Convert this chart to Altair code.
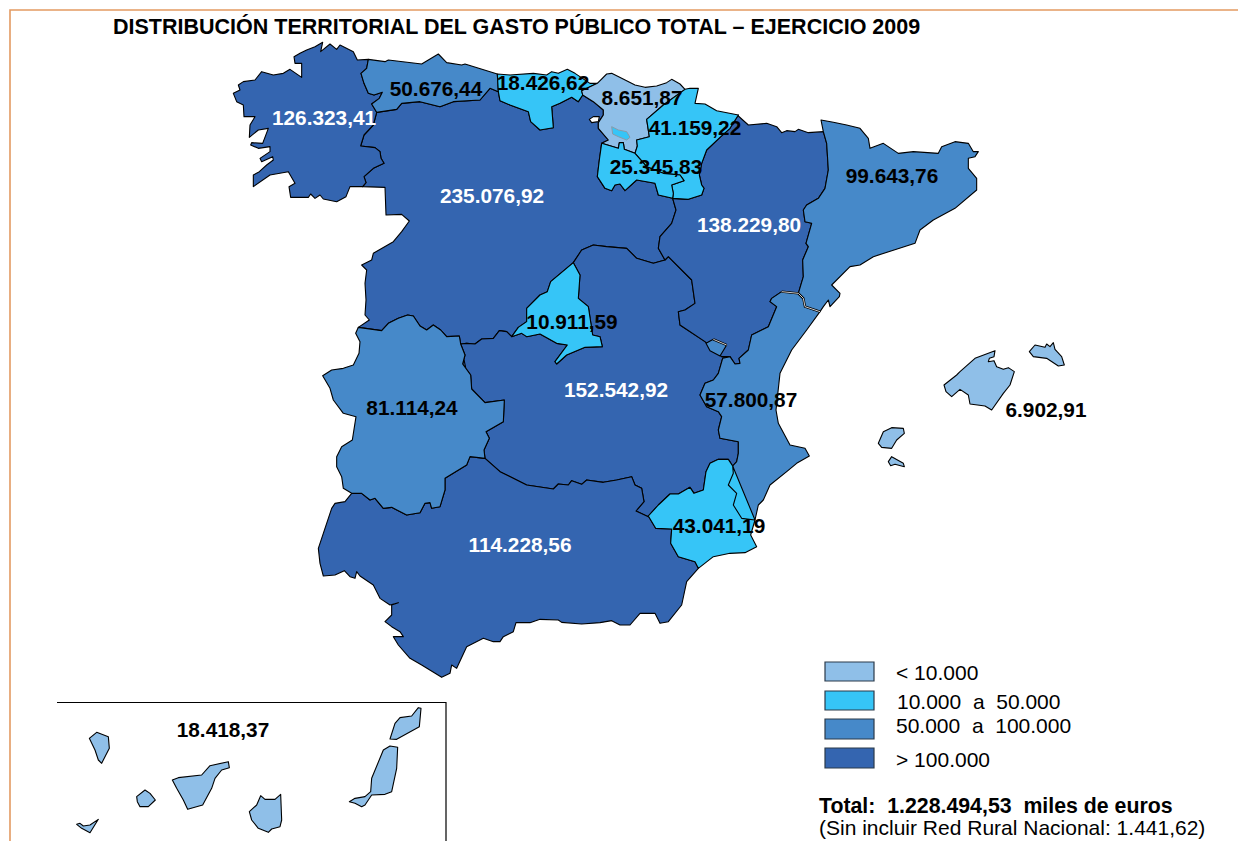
import altair as alt

# Boundary traces: each group is (crop origin x, crop origin y, points at 3x)
def z(ox, oy, pts):
    return [[ox + a / 3, oy + b / 3] for a, b in pts]

def rev(seg):
    return seg[::-1]

def ring(*segs):
    out = []
    for s in segs:
        out += s
    return out + [out[0]]

Z1 = (220, 50); Z2 = (490, 60); Z3 = (640, 110); Z4 = (310, 240)
Z5 = (620, 330); Z6 = (310, 450); Z7 = (50, 695); Z9 = (870, 330); Z11 = (280, 30)

gal_coast = z(*Z1, [(428,410),(390,410),(378,440),(350,455),(310,447),(300,435),(285,445),(272,432),(265,442),(212,442),(207,410),(225,400),(205,365),(150,375),(100,410),(100,375),(118,365),(140,345),(160,330),(158,320),(125,335),(120,325),(150,305),(150,290),(115,295),(92,285),(95,278),(128,280),(145,235),(115,240),(88,262),(90,225),(105,200),(72,200),(70,165),(50,155),(40,130),(60,120),(55,105),(70,95),(105,90),(125,65),(160,75),(190,70),(210,58),(245,82)]) + z(*Z11, [(65,100),(45,100),(42,80),(60,70),(80,60),(105,50),(128,37),(122,65),(150,42),(170,58),(180,45),(220,65),(232,90)]) + z(*Z1, [(445,28)])
gal_ast = z(*Z1, [(445,28),(440,55),(423,70),(432,100),(445,130),(462,135),(487,127),(478,145),(455,162),(470,187)])
gal_cyl = z(*Z1, [(470,187),(460,225),(432,255),(422,288),(465,293),(480,305),(483,325),(492,340),(460,355),(432,380),(438,398),(428,410)])
ast_coast = z(*Z1, [(445,28),(495,35),(505,30),(605,42),(655,12),(680,38),(725,45),(735,42),(832,72)])
ast_cant = z(*Z1, [(832,72),(835,125)])
ast_cyl = z(*Z1, [(470,187),(530,178),(545,160),(600,155),(660,170),(700,155),(780,150),(810,115),(835,125)])
cant_coast = z(*Z1, [(832,72)]) + z(*Z2, [(60,45),(130,40),(170,45),(185,35),(205,40),(232,28),(255,40),(300,70),(322,70)])
cant_pv = z(*Z2, [(322,70),(275,92),(278,105)])
cant_cyl = z(*Z1, [(835,125)]) + z(*Z2, [(30,122),(60,135),(115,155),(122,185),(150,210),(190,203),(185,140),(210,130),(245,112),(265,125),(278,105)])
pv_coast = z(*Z2, [(322,70),(350,42),(365,40),(395,55),(435,75),(465,82),(500,78),(530,68),(545,58),(570,72),(585,88)])
pv_nav = z(*Z2, [(585,88),(520,135),(470,178),(478,230),(440,240),(442,258),(435,280)])
pv_rio = z(*Z2, [(435,280),(403,268),(400,248),(388,248),(385,265),(335,250)])
pv_cyl = z(*Z2, [(335,250),(355,240),(325,205),(325,188),(340,165),(340,150),(310,125),(278,105)])
nav_coast = z(*Z2, [(585,88),(600,85),(625,85),(615,130),(645,132),(680,152),(745,165)])
nav_ara = z(*Z2, [(745,165),(720,205),(690,232),(650,270),(635,310),(628,345),(635,375),(642,385),(635,405),(595,418),(548,415)])
nav_rio = z(*Z2, [(548,415),(550,400),(545,375),(582,362),(570,345),(520,340),(470,320),(435,280)])
rio_cyl = z(*Z2, [(335,250),(328,300),(322,350),(345,385),(365,392),(375,375),(390,372),(405,392),(440,360),(495,370),(505,405),(548,415)])
ara_cyl = z(*Z2, [(548,415),(558,450),(545,490),(510,530),(505,565),(525,600)])
cyl_clm_e = z(*Z2, [(525,600),(490,610),(440,595),(410,565),(350,560),(310,555),(275,570)]) + z(*Z4, [(790,68)])
cyl_mad = z(*Z4, [(790,68),(722,125),(712,155),(690,165),(650,205),(650,245),(625,262),(605,290)])
mad_clm = z(*Z4, [(605,290),(635,280),(650,290),(690,282),(740,310),(772,315),(735,365),(740,372),(770,345),(825,322),(877,320),(870,290),(848,285),(835,200),(805,175),(810,105),(790,68)])
cyl_clm_w = z(*Z4, [(605,290),(590,275),(568,272),(550,295),(515,297),(495,312),(470,310),(452,312)])
ext_cyl = z(*Z4, [(452,312),(448,288),(410,290),(392,270),(370,255),(350,270),(330,258),(310,228),(293,225),(265,235),(235,250),(215,272),(145,262)])
ext_west = z(*Z4, [(145,262),(137,280),(150,305),(147,340),(130,375),(100,385),(65,390),(38,407),(60,445),(70,480),(100,520),(138,530),(127,600),(95,620),(80,650),(80,680),(95,710),(100,745),(125,760)])
ext_and = z(*Z6, [(125,130),(155,130),(180,150),(195,145),(220,175),(245,172),(290,195),(330,188),(345,160),(360,158),(365,175),(390,170),(405,120),(405,85),(470,45),(480,20),(525,25)])
ext_clm = z(*Z6, [(525,25)]) + z(*Z4, [(522,630),(538,595),(528,575),(580,545),(583,480),(525,488),(485,447),(482,405),(458,372),(465,345),(452,312)])
cyl_port = z(*Z1, [(428,410),(495,412),(498,495),(545,493),(568,513),(545,545),(520,575)]) + z(*Z4, [(190,40),(185,60),(155,75),(170,90),(165,130),(168,180),(165,225),(178,240),(145,262)])
and_clm = z(*Z6, [(525,25),(570,65),(650,105),(730,117),(745,102),(775,105),(785,92),(815,103),(830,90),(880,97),(920,90),(965,80),(975,105),(995,115),(1002,155),(978,183),(1015,200)])
mur_and = z(*Z5, [(85,558),(107,595),(155,597),(152,640),(175,680),(225,695),(235,715)])
and_coast = z(*Z6, [(1165,355),(1130,395),(1115,465),(1075,515),(1050,520),(1035,490),(990,490),(960,525),(930,525),(905,512),(870,518),(815,522),(755,517),(745,510),(690,508),(660,518),(618,518),(610,545),(580,560),(570,575),(550,575),(520,565),(470,590),(440,655),(425,645),(420,670),(395,682),(335,645),(300,625),(265,585),(250,560),(280,560),(270,545),(245,530),(225,515),(245,495),(245,465),(265,458),(240,465),(210,445),(190,405),(150,378),(140,365),(135,385),(120,380),(103,362),(75,375),(40,378),(30,340),(25,295),(40,250),(65,175),(75,160),(105,155),(125,130)])
ara_top = z(*Z3, [(295,18),(325,45),(380,40),(410,50),(425,68),(440,62),(465,65),(475,58),(505,68),(550,65)])
ara_cat = z(*Z3, [(550,65),(560,100),(565,180),(555,235),(535,265),(500,285),(490,300),(495,335),(515,340),(498,400),(505,410),(488,450),(490,500),(475,550)])
ara_val = z(*Z3, [(475,550),(425,545),(395,565),(390,575),(410,590),(385,650),(335,675),(325,720),(297,745),(300,760),(285,762),(270,740)])
ara_clm = z(*Z3, [(75,450),(85,440),(155,510),(165,580),(135,600),(115,605),(120,645),(195,695),(245,740),(270,740)])
cat_coast = z(*Z3, [(550,65),(543,30),(580,37),(620,45),(660,55),(685,85),(690,115),(730,100),(775,130),(820,125),(895,130),(905,110),(945,95),(985,100),(1000,125),(1015,125),(1005,140),(985,145),(985,175),(1010,205),(1010,240),(945,295),(880,330),(840,360),(825,400),(700,440),(660,465),(630,470),(575,525),(600,550),(598,560),(570,590),(565,570),(550,590),(540,605)])
cat_val = z(*Z3, [(540,605),(495,590),(490,565),(475,550)])
val_coast = z(*Z3, [(540,605),(500,660),(455,720)]) + z(*Z5, [(515,60),(480,130),(468,240),(475,280),(510,345),(555,355),(568,378),(530,400),(500,425),(450,465),(430,510),(415,525),(405,570)])
val_mur = z(*Z5, [(405,570),(365,565),(340,525),(350,490),(325,465),(340,430),(338,408)])
val_clm = z(*Z3, [(270,740)]) + z(*Z5, [(308,85),(295,130),(280,150),(255,160),(240,195),(260,230),(295,245),(305,260),(295,300),(300,325),(355,335),(355,370),(350,395),(338,408)])
mur_clm = z(*Z5, [(338,408),(325,388),(295,388),(270,400),(258,425),(250,480),(222,490),(210,472),(175,492),(150,492),(115,525),(85,558)])
mur_coast = z(*Z5, [(235,715),(280,680),(330,670),(375,668),(410,650),(392,615),(405,570)])
ademuz = z(*Z5, [(258,40),(280,28),(320,45),(300,78),(270,62)])
trevino = z(*Z2, [(365,200),(385,210),(410,215),(420,232),(410,240),(385,230),(368,222)])
notch = z(*Z2, [(298,178),(310,170),(328,170),(325,185),(305,188)])
double_a = z(*Z3, [(425,545),(475,550),(490,565),(495,590),(540,605)])
double_b = z(*Z5, [(280,28),(320,45)])

mallorca = z(*Z9, [(222,165),(260,135),(270,125),(315,85),(375,62),(372,80),(358,85),(355,95),(372,92),(380,110),(400,118),(415,113),(433,125),(420,165),(400,190),(365,240),(345,228),(300,222),(295,195),(270,178),(245,200),(228,185)])
menorca = z(*Z9, [(478,65),(495,45),(525,52),(530,42),(540,50),(550,38),(555,58),(575,80),(583,105),(565,108),(530,85),(490,80)])
ibiza = z(*Z9, [(25,340),(40,305),(65,293),(100,295),(103,310),(80,330),(65,355),(35,352)])
formentera = z(*Z9, [(55,395),(65,380),(100,400),(103,410),(75,403),(62,407)])
hierro = z(*Z7, [(80,388),(90,385),(100,393),(120,390),(145,373),(120,413),(95,400)])
palma = z(*Z7, [(118,130),(140,112),(175,125),(178,160),(155,205),(145,195),(135,165)])
gomera = z(*Z7, [(260,305),(285,285),(300,295),(316,315),(295,335),(270,335),(262,320)])
tenerife = z(*Z7, [(367,255),(385,248),(455,240),(480,212),(535,200),(538,218),(515,225),(495,250),(485,280),(458,330),(413,343),(400,315),(380,280)])
gran_canaria = z(*Z7, [(598,350),(620,330),(632,302),(645,313),(675,313),(692,298),(695,375),(690,395),(665,402),(655,412),(625,400),(605,375)])
fuerteventura = z(*Z7, [(898,320),(915,310),(945,305),(962,290),(965,250),(1000,165),(1020,153),(1043,157),(1040,220),(1025,290),(1005,298),(965,300),(945,330),(935,335),(915,325)])
lanzarote = z(*Z7, [(1020,132),(1035,85),(1050,68),(1085,63),(1105,38),(1113,40),(1108,95),(1040,133)])

BANDS = ["low", "mid", "high", "top", "blank"]
BAND_COLORS = ["#8FBFE8", "#36C5F7", "#4689C9", "#3465B0", "#FFFFFF"]

regions = [
    ("Castilla y León", "top", ring(ast_cyl, cant_cyl, rev(pv_cyl), rio_cyl, ara_cyl, cyl_clm_e, cyl_mad, cyl_clm_w, rev(ext_cyl), rev(cyl_port), rev(gal_cyl))),
    ("Castilla-La Mancha", "top", ring(rev(cyl_clm_w), mad_clm, rev(cyl_clm_e), ara_clm, val_clm, mur_clm, rev(and_clm), rev(ext_clm))),
    ("Aragón", "top", ring(ara_top, ara_cat, ara_val, rev(ara_clm), rev(ara_cyl), rev(nav_ara))),
    ("Galicia", "top", ring(gal_coast, gal_ast, gal_cyl)),
    ("Andalucía", "top", ring(and_clm, mur_and, and_coast, ext_and)),
    ("Asturias", "high", ring(ast_coast, ast_cant, rev(ast_cyl), rev(gal_ast))),
    ("Cantabria", "mid", ring(cant_coast, cant_pv, rev(cant_cyl), rev(ast_cant))),
    ("País Vasco", "low", ring(pv_coast, pv_nav, pv_rio, pv_cyl, rev(cant_pv))),
    ("Navarra", "mid", ring(nav_coast, nav_ara, nav_rio, rev(pv_nav))),
    ("La Rioja", "mid", ring(rio_cyl, nav_rio, pv_rio)),
    ("Madrid", "mid", ring(cyl_mad, mad_clm)),
    ("Extremadura", "high", ring(rev(ext_cyl), rev(ext_clm), rev(ext_and), rev(ext_west))),
    ("Cataluña", "high", ring(cat_coast, cat_val, rev(ara_cat))),
    ("Valencia", "high", ring(rev(cat_val), val_coast, val_mur, rev(val_clm), rev(ara_val))),
    ("Murcia", "mid", ring(mur_clm, mur_and, mur_coast, rev(val_mur))),
    ("Ademuz", "high", ring(ademuz)),
    ("Mallorca", "low", ring(mallorca)),
    ("Menorca", "low", ring(menorca)),
    ("Ibiza", "low", ring(ibiza)),
    ("Formentera", "low", ring(formentera)),
    ("El Hierro", "low", ring(hierro)),
    ("La Palma", "low", ring(palma)),
    ("La Gomera", "low", ring(gomera)),
    ("Tenerife", "low", ring(tenerife)),
    ("Gran Canaria", "low", ring(gran_canaria)),
    ("Fuerteventura", "low", ring(fuerteventura)),
    ("Lanzarote", "low", ring(lanzarote)),
    ("Notch", "blank", ring(notch)),
]
enclave = ring(trevino)

legend_boxes = [
    ("low", [[825, 662], [874, 662], [874, 681], [825, 681]]),
    ("mid", [[825, 691], [874, 691], [874, 710], [825, 710]]),
    ("high", [[825, 719], [874, 719], [874, 739], [825, 739]]),
    ("top", [[825, 748], [874, 748], [874, 768], [825, 768]]),
]

bold_labels = [
    ("126.323,41", 324, 118, "white"), ("50.676,44", 436, 89, "black"), ("18.426,62", 543, 83, "black"),
    ("8.651,87", 642, 98, "black"), ("41.159,22", 695, 128, "black"), ("25.345,83", 656, 167, "black"),
    ("235.076,92", 492, 196, "white"), ("138.229,80", 749, 225, "white"), ("99.643,76", 892, 176, "black"),
    ("10.911,59", 572, 322, "black"), ("152.542,92", 616, 390, "white"), ("57.800,87", 751, 400, "black"),
    ("81.114,24", 412, 408, "black"), ("6.902,91", 1046, 410, "black"), ("43.041,19", 719, 526, "black"),
    ("114.228,56", 520, 545, "white"), ("18.418,37", 223, 730, "black"),
]
title_text = [("DISTRIBUCIÓN TERRITORIAL DEL GASTO PÚBLICO TOTAL – EJERCICIO 2009", 113, 27)]
bold_left = [("Total:\u00a0\u00a01.228.494,53\u00a0\u00a0miles de euros", 819, 806)]
plain_left = [
    ("< 10.000", 896, 673), ("10.000\u00a0\u00a0a\u00a0\u00a050.000", 897, 702),
    ("50.000\u00a0\u00a0a\u00a0\u00a0100.000", 896, 726), ("> 100.000", 896, 760),
    ("(Sin incluir Red Rural Nacional: 1.441,62)", 819, 828),
]
frame_orange = [[1246, 10], [10, 10], [10, 849]]
frame_inset = [[57, 702.5], [446, 702.5], [446, 849]]

def feature(coords, kind="Polygon", **props):
    c = [coords] if kind == "Polygon" else coords
    return {"type": "Feature", "properties": props, "geometry": {"type": kind, "coordinates": c}}

PROJ = dict(type="identity", scale=1, translate=[-8, -8])
color = alt.Color("properties.band:N", scale=alt.Scale(domain=BANDS, range=BAND_COLORS), legend=None)

def lines(segs, stroke, width):
    return alt.Chart(alt.Data(values=[feature(s, "LineString") for s in segs])).mark_geoshape(
        filled=False, stroke=stroke, strokeWidth=width).project(**PROJ)

map_layer = alt.Chart(alt.Data(values=[feature(r, name=n, band=b) for n, b, r in regions])).mark_geoshape(
    stroke="#000000", strokeWidth=1.1, strokeJoin="round").encode(color=color).project(**PROJ)
enclave_layer = alt.Chart(alt.Data(values=[feature(enclave, band="mid")])).mark_geoshape(
    stroke="#8a9aa8", strokeWidth=1.0).encode(color=color).project(**PROJ)
legend_layer = alt.Chart(alt.Data(values=[feature(b + b[:1], band=k) for k, b in legend_boxes])).mark_geoshape(
    stroke="#2b3a4a", strokeWidth=1.2).encode(color=color).project(**PROJ)

FONT = "Liberation Sans"
def texts(rows, size, weight="normal"):
    return alt.Chart(alt.Data(values=[{"t": t, "x": x, "y": y} for t, x, y in rows])).mark_text(
        font=FONT, fontSize=size, fontWeight=weight, align="left", baseline="middle", color="black", dy=1).encode(
        longitude="x:Q", latitude="y:Q", text="t:N").project(**PROJ)

lab = alt.Chart(alt.Data(values=[{"t": t, "x": x, "y": y, "c": c} for t, x, y, c in bold_labels])).mark_text(
    font=FONT, fontSize=20.8, fontWeight="bold", align="center", baseline="middle", dy=1).encode(
    longitude="x:Q", latitude="y:Q", text="t:N", color=alt.Color("c:N", scale=None)).project(**PROJ)

chart = alt.layer(lines([frame_orange], "#E39A62", 1.6), lines([frame_inset], "#000000", 1.2),
                  map_layer, enclave_layer, legend_layer,
                  lines([double_a, double_b], "#000000", 2.4), lines([double_a, double_b], "#FFFFFF", 0.8),
                  lab, texts(title_text, 21.5, "bold"), texts(bold_left, 21.3, "bold"), texts(plain_left, 21)).properties(
    width=1230, height=833, padding=0, autosize=alt.AutoSizeParams(type="none"),
    background="white",
).configure_view(stroke=None)

chart.save("out.html", embed_options={"renderer": "svg", "actions": False})
